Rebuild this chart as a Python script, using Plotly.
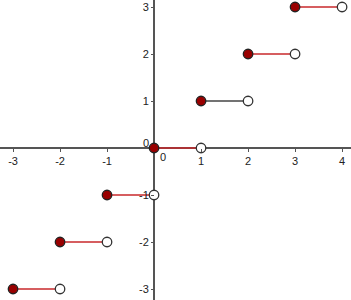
import plotly.graph_objects as go

# Data: floor function steps
step_starts = [-3, -2, -1, 0, 1, 2, 3]
step_values = [-3, -2, -1, 0, 1, 2, 3]
segment_colors = ["#c8282b", "#c8282b", "#c8282b", "#c8282b", "#444444", "#c8282b", "#c8282b"]
x_ticks = [-3, -2, -1, 1, 2, 3, 4]
y_ticks = [-3, -2, -1, 1, 2, 3]

x_range = [-3.277, 4.19]
y_range = [-3.234, 3.149]

fig = go.Figure()

for a, v, c in zip(step_starts, step_values, segment_colors):
    fig.add_trace(go.Scatter(x=[a, a + 1], y=[v, v], mode="lines",
                             line=dict(color=c, width=1.5), hoverinfo="skip"))

fig.add_trace(go.Scatter(x=[a + 1 for a in step_starts], y=step_values, mode="markers",
                         marker=dict(size=9.5, color="white", line=dict(color="#333333", width=1.3))))
fig.add_trace(go.Scatter(x=step_starts, y=step_values, mode="markers",
                         marker=dict(size=9.5, color="#990000", line=dict(color="#222222", width=1.3))))

xpos = (0 - y_range[0]) / (y_range[1] - y_range[0])
ypos = (0 - x_range[0]) / (x_range[1] - x_range[0])

font = dict(family="Liberation Sans, Arial, sans-serif", size=11, color="#222222")

fig.update_layout(
    width=351, height=300, margin=dict(l=0, r=0, t=0, b=0),
    paper_bgcolor="white", plot_bgcolor="white", showlegend=False,
    xaxis=dict(range=x_range, showgrid=False, zeroline=True, zerolinecolor="#555555",
               zerolinewidth=2, showline=False, tickmode="array", tickvals=x_ticks,
               ticktext=[str(t) for t in x_ticks], ticks="outside", ticklen=3,
               tickcolor="#555555", tickfont=font, anchor="free", position=xpos,
               automargin=False, fixedrange=True),
    yaxis=dict(range=y_range, showgrid=False, zeroline=True, zerolinecolor="#555555",
               zerolinewidth=2, showline=False, tickmode="array", tickvals=y_ticks,
               ticktext=[str(t) for t in y_ticks], ticks="outside", ticklen=3,
               tickcolor="#555555", tickfont=font, anchor="free", position=ypos,
               automargin=False, fixedrange=True),
    annotations=[
        dict(x=-0.17, y=0.106, text="0", showarrow=False, font=font, xanchor="center", yanchor="middle"),
        dict(x=0.2, y=-0.2, text="0", showarrow=False, font=font, xanchor="center", yanchor="middle"),
    ],
)

fig.write_html("out.html")
